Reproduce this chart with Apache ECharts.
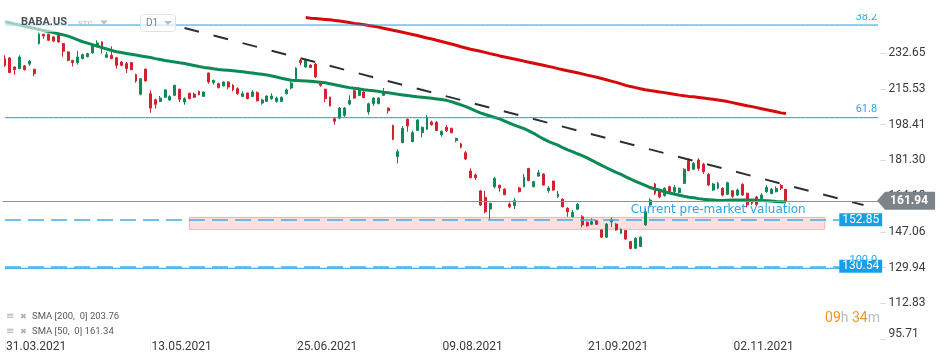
<!DOCTYPE html>
<html><head><meta charset="utf-8">
<script src="https://cdn.jsdelivr.net/npm/echarts@6/dist/echarts.min.js"></script>
<style>html,body{margin:0;padding:0;background:#fff}#c{width:950px;height:364px}</style>
</head><body><div id="c"></div>
<script>
// ---------- DATA ----------
const slotCount = 181; // trading-day slots on the x axis (162 sessions + empty future)
const tickIndex = [0, 30, 60, 90, 120, 150];
const tickLabels = ['31.03.2021', '13.05.2021', '25.06.2021', '09.08.2021', '21.09.2021', '02.11.2021'];
const yTicks = [95.71, 112.83, 129.94, 147.06, 164.18, 181.30, 198.41, 215.53, 232.65];

// [open, close, low, high]
const ohlc = [
[230.1,226.9,226.1,231.7],[230.4,223.4,223.2,230.9],[226.1,224.8,222.4,226.3],[225.3,230.9,225.0,231.7],
[226.6,224.8,224.4,227.0],[227.5,228.8,226.6,229.4],[225.0,222.9,221.6,225.2],[237.3,241.8,236.8,242.5],
[241.8,241.0,239.7,242.0],[241.8,238.9,238.6,242.0],[240.5,238.5,238.2,240.8],[241.3,238.1,237.8,241.6],
[237.3,233.6,231.0,237.7],[233.3,229.3,228.8,233.6],[229.3,228.2,226.4,229.5],[228.2,230.9,227.2,233.8],
[230.1,232.0,229.8,232.5],[231.0,232.5,230.7,232.9],[232.8,236.2,232.5,236.8],[236.0,237.6,235.5,238.9],
[238.1,234.9,232.5,238.4],[230.7,232.0,230.4,233.3],[231.7,230.1,229.8,236.0],[230.5,226.9,225.3,231.0],
[228.5,226.9,226.5,228.8],[227.7,225.3,223.2,228.5],[228.2,224.8,224.5,228.5],[222.4,219.4,218.6,222.9],
[213.0,220.5,212.5,220.8],[225.1,219.4,219.2,225.3],[213.3,206.4,204.2,214.9],[210.4,208.2,206.1,210.9],
[209.6,211.2,209.3,212.2],[211.6,215.1,211.3,215.4],[210.3,211.9,209.9,212.5],[212.5,217.3,212.2,217.6],
[215.4,210.6,209.3,215.7],[209.3,210.9,208.0,211.6],[213.5,210.9,210.6,213.8],[213.1,211.6,211.2,213.8],
[214.4,212.8,212.5,214.8],[212.0,214.1,211.8,214.4],[223.2,218.9,218.1,223.4],[218.6,219.7,217.6,219.9],
[218.1,216.2,215.8,218.6],[217.0,218.9,216.8,219.2],[218.9,216.5,215.4,219.2],[217.3,215.2,214.4,217.9],
[215.7,213.3,212.8,216.4],[212.0,213.3,211.7,214.4],[213.6,210.9,210.6,213.8],[212.0,214.1,211.7,215.0],
[213.8,209.9,209.6,214.4],[208.8,210.3,208.0,210.9],[209.6,212.2,209.3,212.5],[210.9,212.2,210.4,213.5],
[209.6,211.2,209.0,211.9],[209.6,211.6,209.3,211.9],[213.3,215.1,212.8,215.8],[216.0,218.4,215.4,219.2],
[220.2,225.6,220.2,225.9],[229.3,228.2,226.9,230.1],[226.1,229.3,225.8,230.1],[227.0,225.9,225.6,227.3],
[227.5,221.4,220.8,228.0],[218.1,217.3,216.6,218.6],[215.4,210.9,209.3,215.7],[211.6,207.4,207.2,211.9],
[201.3,200.1,198.4,202.1],[201.6,206.4,201.0,206.9],[202.9,206.4,202.1,206.9],[208.3,210.1,207.7,212.5],
[214.7,211.2,210.9,215.7],[212.5,215.1,212.2,216.5],[214.1,211.4,211.2,214.4],[204.5,208.5,203.2,209.0],
[208.5,211.2,207.4,211.6],[208.5,211.2,208.2,211.6],[212.5,214.1,212.2,216.0],[206.4,205.1,203.7,206.6],
[198.1,191.4,191.0,198.4],[183.1,185.5,179.9,186.6],[189.8,196.7,189.6,197.8],[201.0,197.8,195.1,201.5],
[190.3,194.6,190.0,195.6],[195.6,200.7,195.4,201.0],[194.6,197.2,192.4,197.5],[196.2,202.0,195.9,203.1],
[199.7,198.4,198.0,200.4],[199.6,195.6,195.4,200.2],[193.6,195.3,192.7,195.6],[197.2,195.6,194.9,198.3],
[196.7,194.6,194.3,197.0],[190.8,191.9,190.0,192.2],[189.2,187.6,187.1,189.8],[185.0,182.0,181.5,185.8],
[176.2,173.0,172.7,177.5],[174.3,173.0,171.9,175.1],[166.7,159.9,159.6,167.1],[163.6,156.7,155.9,166.7],
[158.0,160.8,152.8,160.9],[168.7,172.7,167.9,173.5],[169.4,168.1,166.3,169.7],[167.6,164.9,164.6,167.9],
[160.4,159.1,158.4,161.2],[159.6,162.0,158.0,163.3],[168.1,166.3,166.0,168.7],[168.7,173.2,168.4,174.8],
[177.5,171.6,171.4,177.7],[168.7,171.1,168.4,171.6],[173.8,175.4,173.5,176.7],[174.8,169.5,169.2,175.1],
[166.8,168.1,165.8,169.1],[171.4,167.1,166.8,171.6],[163.9,165.2,163.3,166.7],[162.7,159.1,158.8,163.2],
[158.4,156.7,154.3,158.8],[154.3,156.4,154.0,157.6],[157.9,160.3,157.5,160.9],[154.3,150.4,149.3,155.1],
[151.7,150.0,149.5,152.1],[150.7,151.9,150.4,153.6],[152.4,150.7,150.4,152.8],[148.0,144.5,144.1,148.3],
[144.5,150.8,144.1,151.3],[151.9,153.1,149.3,154.0],[150.8,148.0,147.6,151.2],[146.4,148.3,146.1,148.8],
[147.7,143.6,143.3,148.0],[142.4,139.1,138.7,142.7],[139.2,144.0,138.9,144.6],[140.0,144.5,139.8,144.9],
[150.4,156.7,149.9,158.3],[159.9,162.3,159.3,163.2],[170.0,165.5,164.7,170.5],[167.1,163.8,163.2,167.8],
[164.5,168.0,163.9,168.4],[168.7,165.8,165.5,169.2],[166.3,168.4,165.8,169.5],[165.8,168.0,165.5,168.2],
[170.3,177.1,170.0,177.5],[181.2,176.4,176.2,182.3],[177.1,179.9,176.7,180.6],[181.5,177.5,176.4,182.3],
[179.5,175.9,174.8,180.1],[174.7,169.5,169.0,175.3],[167.1,170.0,166.7,170.5],[168.0,170.3,167.5,171.0],
[168.0,164.7,164.1,168.4],[165.1,170.6,164.7,171.1],[166.8,164.1,163.4,167.1],[164.7,167.1,164.3,167.8],
[169.9,164.7,164.4,170.3],[165.6,160.0,158.8,165.8],[162.0,160.8,159.9,162.5],[163.8,160.2,159.3,164.3],
[163.0,164.7,162.3,165.6],[166.3,168.4,165.8,169.4],[165.4,167.5,165.1,168.1],[166.3,167.9,166.0,168.9],
[169.3,168.0,167.1,170.0],[167.5,161.94,161.8,167.6]
];

const sma50 = [
247.8,247.3,246.7,246.2,245.6,245.1,244.6,244.1,243.6,243.1,
242.6,242.0,241.5,240.9,240.0,239.1,238.2,237.5,236.8,236.1,
235.4,234.7,234.0,233.4,233.0,232.6,232.2,231.8,231.4,231.0,
230.6,230.1,229.7,229.2,228.8,228.5,228.1,227.8,227.3,226.8,
226.3,225.9,225.6,225.2,224.9,224.7,224.5,224.3,224.0,223.8,
223.5,223.2,222.9,222.6,222.3,221.8,221.3,220.7,220.2,219.7,
219.6,219.5,219.4,219.2,219.0,218.8,218.5,218.1,217.6,217.1,
216.6,216.2,215.9,215.6,215.2,214.9,214.7,214.4,214.0,213.7,
213.4,213.0,212.7,212.4,212.1,211.8,211.6,211.4,211.1,210.8,
210.5,210.1,209.5,208.7,207.9,207.1,206.1,205.1,204.1,203.3,
202.6,201.9,201.2,200.2,199.2,198.2,197.4,196.5,195.5,194.3,
192.9,191.6,190.4,189.5,188.6,187.4,186.4,185.5,184.5,183.6,
182.5,181.3,180.1,178.9,177.8,176.7,175.6,174.6,173.4,172.3,
171.3,170.3,169.3,168.3,167.6,167.0,166.3,165.7,165.2,164.6,
164.1,163.7,163.4,163.0,162.7,162.5,162.3,162.1,162.1,162.2,
162.3,162.3,162.3,162.3,162.3,162.2,162.1,162.0,161.8,161.6,
161.5,161.34
];

const sma200Start = 62;
const sma200 = [
249.8,249.5,249.3,249.1,248.9,248.7,248.4,248.1,247.8,247.4,
247.0,246.7,246.4,246.0,245.6,245.2,244.7,244.2,243.7,243.2,
242.7,242.2,241.7,241.2,240.6,240.0,239.5,238.9,238.3,237.7,
237.1,236.5,235.8,235.2,234.6,234.1,233.6,233.1,232.5,232.0,
231.4,230.9,230.4,229.9,229.4,228.9,228.4,227.9,227.4,226.9,
226.4,225.9,225.3,224.8,224.3,223.8,223.3,222.8,222.2,221.7,
221.2,220.6,220.0,219.3,218.7,218.0,217.3,216.7,216.2,215.7,
215.2,214.8,214.5,214.1,213.8,213.4,213.0,212.6,212.3,212.0,
211.8,211.5,211.2,210.9,210.6,210.3,209.9,209.5,209.0,208.5,
208.0,207.5,207.1,206.6,206.1,205.6,205.1,204.6,204.1,203.76
];

const trendPoints = [[37, 244.8], [177, 159.9]];
const fibLevels = [['38.2', 246.2], ['61.8', 201.8], ['100.0', 129.6]];
const currentPrice = 161.94;
const alertLevels = [[152.85, 172], [130.54, 172]];
const zone = { from: 38, to: 169, low: 148.3, high: 154.0 };
const noteText = 'Current pre-market valuation';
const notePos = [129, 157.6];
const legendLines = ['SMA [200,  0] 203.76', 'SMA [50,  0] 161.34'];

// ---------- BUILD ----------
const categories = Array.from({ length: slotCount }, (_, i) => String(i));
const sma200Data = new Array(sma200Start).fill(null).concat(sma200);
const trendData = new Array(trendPoints[trendPoints.length - 1][0] + 1).fill(null);
trendPoints.forEach(p => { trendData[p[0]] = p[1]; });
const showTick = (i) => tickIndex.indexOf(i) >= 0;

const UP = '#0f8a56', DOWN = '#d3222d', BLUE = '#119fe8';
const chart = echarts.init(document.getElementById('c'), null, { renderer: 'canvas' });

const fibSeries = fibLevels.map(f => ({
  name: 'fib ' + f[0], type: 'line', data: new Array(slotCount).fill(f[1]),
  symbol: 'none', silent: true, z: 4, clip: false,
  lineStyle: { color: BLUE, width: 1, type: 'solid' },
  markPoint: {
    silent: true, animation: false,
    data: [{
      coord: [slotCount - 1, f[1]], symbol: 'circle', symbolSize: 0,
      label: { show: true, position: 'left', distance: 1, offset: [0, -8], formatter: f[0], color: '#2aa6e6', fontSize: 11, fontFamily: 'Roboto' }
    }]
  }
}));

const option = {
  animation: false,
  backgroundColor: '#ffffff',
  textStyle: { fontFamily: 'Roboto' },
  grid: { left: 2.6, right: 69.5, top: 14, bottom: 25, containLabel: false, outerBoundsMode: 'none' },
  xAxis: {
    type: 'category', data: categories, boundaryGap: true,
    axisLine: { show: false },
    axisTick: { show: true, interval: showTick, alignWithLabel: true, length: 12, lineStyle: { color: '#efefef' } },
    axisLabel: {
      interval: showTick, align: 'left', margin: 2, padding: [0, 0, 0, 1],
      color: '#3a3a3a', fontSize: 12, fontFamily: 'Roboto',
      formatter: (v, i) => { const k = tickIndex.indexOf(i); return k >= 0 ? tickLabels[k] : ''; }
    },
    splitLine: { show: false }
  },
  yAxis: {
    type: 'value', position: 'right', min: 95.71, max: 251.49, scale: true,
    axisLine: { show: false },
    axisTick: { show: true, customValues: yTicks, length: 5, lineStyle: { color: '#d8d8d8' } },
    axisLabel: {
      customValues: yTicks, margin: 8, color: '#3a3a3a', fontSize: 12, fontFamily: 'Roboto',
      formatter: (v) => v === yTicks[0] ? '{b|' + v.toFixed(2) + '}' : v.toFixed(2),
      rich: { b: { padding: [0, 0, 11, 0], fontSize: 12, color: '#3a3a3a', fontFamily: 'Roboto' } }
    },
    splitLine: { show: false }
  },
  series: [
    {
      name: 'BABA.US', type: 'candlestick', data: ohlc, barWidth: 2.4, z: 2, silent: true,
      itemStyle: { color: UP, color0: DOWN, borderColor: UP, borderColor0: DOWN, borderWidth: 1 }
    },
    {
      name: 'SMA50', type: 'line', data: sma50, symbol: 'none', silent: true, z: 3,
      lineStyle: { color: '#0b8a55', width: 3 }
    },
    {
      name: 'SMA200', type: 'line', data: sma200Data, symbol: 'none', silent: true, z: 3,
      lineStyle: { color: '#d60a0a', width: 3 }
    },
    {
      name: 'trend', type: 'line', data: trendData, connectNulls: true, symbol: 'none', silent: true, z: 3,
      lineStyle: { color: '#2b3036', width: 2, type: [15, 15] }
    },
    {
      name: 'price', type: 'line', data: [], silent: true, z: 3,
      itemStyle: { color: '#8c9195' }, lineStyle: { color: '#8c9195' },
      markLine: {
        silent: true, symbol: ['none', 'none'], animation: false,
        lineStyle: { color: '#8c9195', width: 1, type: 'solid' },
        label: { show: false },
        data: [{ yAxis: currentPrice }]
      }
    }
  ].concat(fibSeries).concat([
    {
      name: 'alerts', type: 'line', data: [], silent: true, z: 4,
      itemStyle: { color: '#3aaee9' }, lineStyle: { color: '#3aaee9' },
      markLine: {
        silent: true, symbol: ['none', 'none'], animation: false,
        lineStyle: { color: '#3aaee9', width: 1.5, type: [16, 7] },
        label: {
          show: true, position: 'end', distance: 0,
          backgroundColor: '#14a0e8', color: '#ffffff', padding: [1, 3, 0, 3],
          fontSize: 12, lineHeight: 12, fontFamily: 'Roboto'
        },
        data: alertLevels.map(a => [
          { coord: [0, a[0]], label: { formatter: a[0].toFixed(2) } },
          { coord: [a[1], a[0]] }
        ])
      }
    },
    {
      name: 'zone', type: 'line', data: [], silent: true, z: 5,
      markArea: {
        silent: true,
        itemStyle: { color: 'rgba(246,170,170,0.38)', borderColor: '#f2b2b2', borderWidth: 1 },
        data: [[{ xAxis: zone.from, yAxis: zone.high }, { xAxis: zone.to, yAxis: zone.low }]]
      },
      markPoint: {
        silent: true, animation: false,
        data: [{
          coord: notePos, symbol: 'circle', symbolSize: 0,
          label: { show: true, position: 'right', distance: 0, formatter: noteText, color: '#2aa6e6', fontSize: 12, fontFamily: 'DejaVu Sans' }
        }]
      }
    },
    {
      name: 'priceTag', type: 'line', data: [], silent: true, z: 6,
      markPoint: {
        silent: true, animation: false,
        data: [{
          coord: [slotCount - 1, currentPrice],
          symbol: 'path://M0,9 L8,0 L58,0 L58,18 L8,18 Z', symbolSize: [58, 18], symbolOffset: [28, 0],
          itemStyle: { color: '#7d8489' },
          label: { show: true, position: 'inside', offset: [3, 0], formatter: currentPrice.toFixed(2), color: '#ffffff', fontSize: 12, fontWeight: 'bold', fontFamily: 'Roboto' }
        }]
      }
    }
  ]),
  graphic: [
    { type: 'rect', shape: { x: 0, y: 0, width: 950, height: 14 }, style: { fill: '#ffffff' }, z: 100, silent: true },
    { type: 'rect', shape: { x: 0, y: 14, width: 68, height: 18 }, style: { fill: 'rgba(255,255,255,0.6)' }, z: 100, silent: true },
    { type: 'text', z: 101, style: { x: 21, y: 22.5, text: 'BABA.US', fill: '#4b5056', font: 'bold 11px Roboto', verticalAlign: 'middle' } },
    { type: 'text', z: 101, style: { x: 78, y: 23.5, text: 'STC', fill: '#b4b8bc', font: '8px Roboto', verticalAlign: 'middle' } },
    { type: 'polygon', z: 101, shape: { points: [[100, 20.5], [108, 20.5], [104, 24.5]] }, style: { fill: '#b8bcc0' } },
    { type: 'rect', z: 101, shape: { x: 140.5, y: 14.5, width: 35, height: 17, r: 3 }, style: { fill: 'rgba(255,255,255,0.7)', stroke: '#dfe2e5', lineWidth: 1 } },
    { type: 'text', z: 102, style: { x: 146, y: 23, text: 'D1', fill: '#7d8287', font: '10px Roboto', verticalAlign: 'middle' } },
    { type: 'polygon', z: 102, shape: { points: [[164, 21], [172, 21], [168, 25]] }, style: { fill: '#b8bcc0' } },
    { type: 'text', z: 101, style: { x: 6, y: 316.5, text: '≡', fill: '#b0b0b0', font: '10px DejaVu Sans', verticalAlign: 'middle' } },
    { type: 'text', z: 101, style: { x: 20, y: 316.5, text: '✖', fill: '#b0b0b0', font: '8px DejaVu Sans', verticalAlign: 'middle' } },
    { type: 'text', z: 101, style: { x: 32, y: 316.5, text: legendLines[0], fill: '#555a5f', font: '9.5px Roboto', verticalAlign: 'middle' } },
    { type: 'text', z: 101, style: { x: 6, y: 331.5, text: '≡', fill: '#b0b0b0', font: '10px DejaVu Sans', verticalAlign: 'middle' } },
    { type: 'text', z: 101, style: { x: 20, y: 331.5, text: '✖', fill: '#b0b0b0', font: '8px DejaVu Sans', verticalAlign: 'middle' } },
    { type: 'text', z: 101, style: { x: 32, y: 331.5, text: legendLines[1], fill: '#555a5f', font: '9.5px Roboto', verticalAlign: 'middle' } },
    { type: 'text', z: 101, style: {
        x: 880, y: 318, align: 'right', verticalAlign: 'middle',
        text: '{o|09}{g|h }{o|34}{g|m}',
        rich: { o: { fill: '#f7941d', font: '14px Roboto' }, g: { fill: '#b9bcbf', font: '14px Roboto' } }
    } }
  ]
};
chart.setOption(option);
</script>
</body></html>
